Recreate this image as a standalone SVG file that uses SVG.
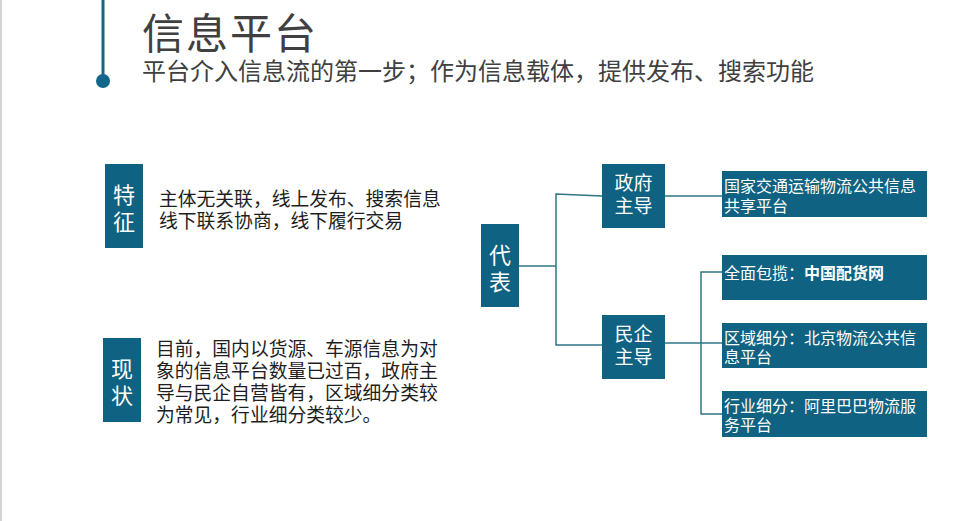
<svg xmlns="http://www.w3.org/2000/svg" width="958" height="521" viewBox="0 0 958 521">
<style>
.box{fill:#0f6281}
.wt{fill:#ffffff;font-family:"Microsoft YaHei","Noto Sans CJK SC",sans-serif}
.bt{fill:#1e1e1e;font-family:"Microsoft YaHei","Noto Sans CJK SC",sans-serif;font-size:18.8px}
.conn{stroke:#2b7686;stroke-width:1.5;fill:none}
</style>
<rect x="0" y="0" width="958" height="521" fill="#ffffff"/>
<line x1="1" y1="0" x2="1" y2="521" stroke="#c4c4c4" stroke-width="1.5"/>
<g id="header">
<line x1="103" y1="0" x2="103" y2="78" stroke="#11678a" stroke-width="3"/>
<circle cx="103" cy="81" r="7" fill="#11678a"/>
<text x="142" y="49" font-family="Microsoft YaHei,'Noto Sans CJK SC',sans-serif" font-size="42" letter-spacing="2" fill="#404040">信息平台</text>
<text x="142" y="80" font-family="Microsoft YaHei,'Noto Sans CJK SC',sans-serif" font-size="24" fill="#404040">平台介入信息流的第一步；作为信息载体，提供发布、搜索功能</text>
</g>
<g id="tezheng">
<rect class="box" x="105" y="164" width="38" height="84"/>
<text class="wt" x="124" y="203" font-size="22" text-anchor="middle">特<tspan x="124" dy="27">征</tspan></text>
<text class="bt" x="159" y="206">主体无关联，线上发布、搜索信息<tspan x="159" dy="22">线下联系协商，线下履行交易</tspan></text>
</g>
<g id="xianzhuang">
<rect class="box" x="103" y="338" width="38" height="84"/>
<text class="wt" x="122" y="377" font-size="22" text-anchor="middle">现<tspan x="122" dy="27">状</tspan></text>
<text class="bt" x="156" y="356">目前，国内以货源、车源信息为对<tspan x="156" dy="22">象的信息平台数量已过百，政府主</tspan><tspan x="156" dy="22">导与民企自营皆有，区域细分类较</tspan><tspan x="156" dy="22">为常见，行业细分类较少。</tspan></text>
</g>
<g id="connectors">
<polyline class="conn" points="519,266 556,266"/>
<polyline class="conn" points="602,196 556,194 556,345 602,345"/>
<polyline class="conn" points="665,196 722,196"/>
<polyline class="conn" points="665,343 722,343"/>
<polyline class="conn" points="722,272 701,272 701,414 722,414"/>
</g>
<g id="daibiao">
<rect class="box" x="481" y="224" width="38" height="83"/>
<text class="wt" x="500" y="263" font-size="22" text-anchor="middle">代<tspan x="500" dy="27">表</tspan></text>
</g>
<g id="zhengfu">
<rect class="box" x="602" y="164" width="63" height="64"/>
<text class="wt" x="633.5" y="190" font-size="19" text-anchor="middle">政府<tspan x="633.5" dy="23">主导</tspan></text>
</g>
<g id="minqi">
<rect class="box" x="602" y="315" width="63" height="64"/>
<text class="wt" x="633.5" y="341" font-size="19" text-anchor="middle">民企<tspan x="633.5" dy="23">主导</tspan></text>
</g>
<g id="guojia">
<rect class="box" x="722" y="171" width="205" height="46"/>
<text class="wt" x="724" y="192" font-size="16">国家交通运输物流公共信息<tspan x="724" dy="20">共享平台</tspan></text>
</g>
<g id="quanmian">
<rect class="box" x="722" y="255" width="205" height="45"/>
<text class="wt" x="724" y="279" font-size="16">全面包揽：<tspan font-weight="bold">中国配货网</tspan></text>
</g>
<g id="quyu">
<rect class="box" x="722" y="323" width="205" height="45"/>
<text class="wt" x="724" y="344" font-size="16">区域细分：北京物流公共信<tspan x="724" dy="19">息平台</tspan></text>
</g>
<g id="hangye">
<rect class="box" x="722" y="391" width="205" height="46"/>
<text class="wt" x="724" y="412" font-size="16">行业细分：阿里巴巴物流服<tspan x="724" dy="19">务平台</tspan></text>
</g>
</svg>
